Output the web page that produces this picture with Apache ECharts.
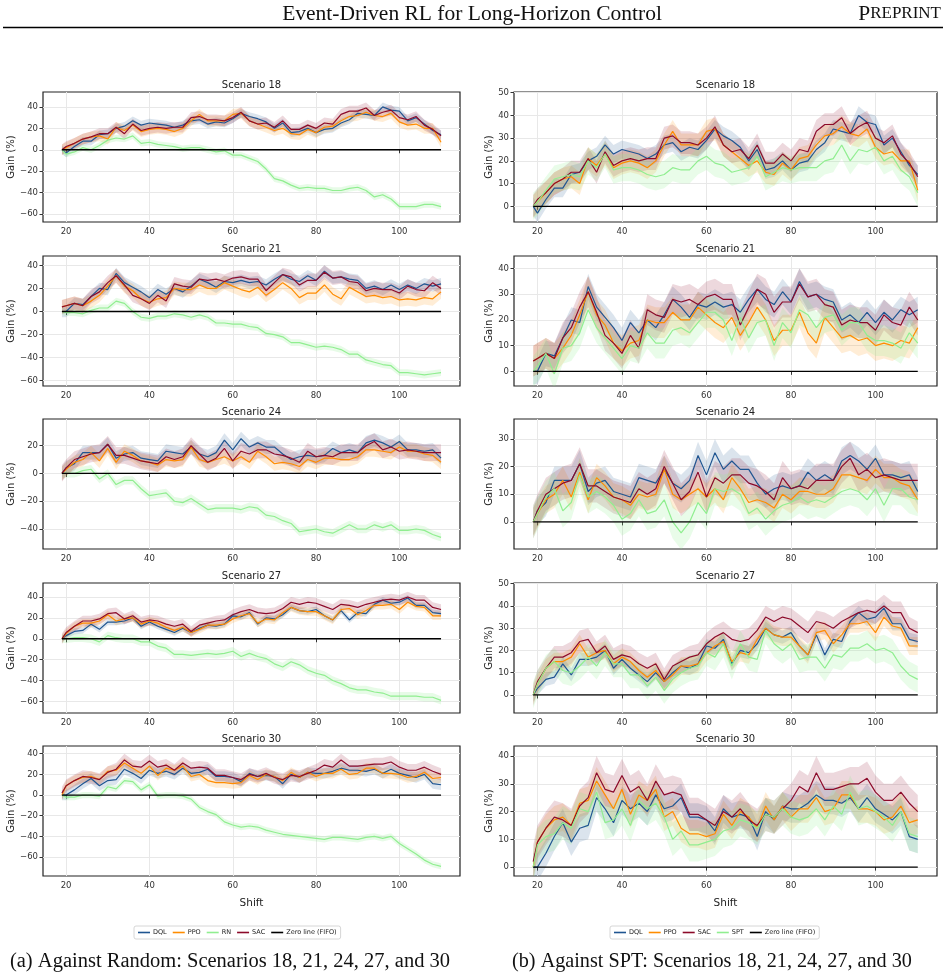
<!DOCTYPE html>
<html>
<head>
<meta charset="utf-8">
<script src="https://cdn.jsdelivr.net/npm/echarts@6/dist/echarts.min.js"></script>
<style>
  html, body { margin: 0; padding: 0; background: #fff; }
  #chart { width: 948px; height: 979px; }
</style>
</head>
<body>
<div id="chart"></div>
<script>
// shift values (x axis), shared by every panel
const shift = [19,20,22,24,26,28,30,32,34,36,38,40,42,44,46,48,50,52,54,56,58,60,62,64,66,68,70,72,74,76,78,80,82,84,86,88,90,92,94,96,98,100,102,104,106,108,110];

// Scenario 18
const dql18 = [0,-3,3,8,8,14,15,20,22,27, 23,25,24,23,21,23,27,28,24,26, 25,29,34,31,29,26,20,25,16,17, 20,16,19,20,25,28,34,33,32,40, 37,36,27,30,24,18,14];
const ppo18 = [0,2,6,10,12,13,10,21,18,23, 17,19,20,19,17,20,27,33,27,27, 27,33,34,27,24,21,18,20,15,14, 19,16,21,22,27,31,32,35,32,31, 34,26,23,24,20,20,7];
const sac18 = [0,3,6,10,12,15,15,21,15,24, 18,20,21,20,21,21,30,31,28,28, 27,30,35,27,24,25,21,27,19,19, 23,20,25,24,33,36,36,39,32,35, 37,30,28,31,23,19,13];
const rn18  = [0,-4,-2,2,0,4,9,11,10,13, 6,7,5,4,3,1,2,2,0,-2, -1,-5,-5,-8,-11,-18,-27,-29,-33,-36, -35,-36,-36,-38,-38,-36,-35,-38,-44,-42, -46,-53,-53,-53,-51,-51,-53];
const spt18 = [0,2,7,12,13,14,13,20,17,23, 16,17,17,16,14,13,14,17,16,16, 20,22,19,18,15,16,17,22,13,15, 17,16,17,17,17,20,21,27,20,25, 24,26,20,22,16,13,6];

// Scenario 21
const dql21 = [0,0,7,6,13,20,19,33,25,21, 17,12,19,15,20,17,22,28,25,21, 26,25,27,25,26,23,28,32,28,26, 31,27,35,29,30,28,27,20,22,19, 23,19,23,20,24,22,24];
const ppo21 = [4,5,7,5,9,14,22,31,22,18, 11,8,11,12,20,19,19,23,20,20, 25,22,19,17,21,14,19,25,20,12, 16,16,23,15,11,21,17,13,14,12, 13,10,11,10,12,11,17];
const sac21 = [4,5,7,5,13,17,25,31,23,14, 11,7,14,9,24,22,21,28,27,28, 26,29,30,28,28,18,25,32,30,23, 27,27,34,29,30,26,25,18,20,19, 19,16,22,19,18,25,20];
const rn21  = [0,-1,-1,-2,1,3,3,9,7,0, -5,-6,-4,-4,-2,-3,-5,-3,-5,-10, -10,-11,-11,-13,-14,-19,-20,-22,-27,-27, -29,-31,-30,-31,-33,-37,-37,-42,-44,-46, -47,-53,-53,-54,-55,-54,-53];
const spt21 = [0,2,7,-1,9,10,15,24,17,13, 9,5,10,9,15,11,11,16,17,15, 19,23,23,20,12,21,13,19,20,10, 19,15,24,22,17,21,22,16,19,19, 14,12,12,11,9,15,11];

// Scenario 24
const dql24 = [0,4,7,15,15,15,21,11,14,15, 11,10,9,16,15,14,19,14,12,15, 24,17,25,19,22,19,19,14,10,12, 13,12,13,18,15,17,15,22,24,22, 19,23,17,17,16,17,11];
const ppo24 = [0,3,8,10,15,9,18,8,16,13, 9,8,6,10,9,10,19,10,8,10, 12,9,12,8,16,12,7,8,7,5, 10,8,11,11,10,10,12,17,17,16, 15,19,16,16,14,13,8];
const sac24 = [0,4,10,12,14,15,21,13,13,11, 9,8,7,12,10,12,20,14,8,11, 18,9,16,14,17,17,14,13,11,8, 16,12,13,12,15,15,15,20,23,17, 19,16,17,16,15,15,15];
const rn24  = [0,0,0,2,3,-4,0,-8,-5,-5, -11,-16,-15,-14,-20,-21,-18,-22,-26,-25, -25,-25,-26,-24,-25,-30,-31,-34,-36,-42, -41,-40,-42,-43,-40,-37,-40,-40,-37,-39, -37,-41,-41,-40,-41,-44,-46];
const spt24 = [0,3,9,12,4,7,17,9,11,9, 6,1,3,8,3,4,8,0,-4,0, 7,3,12,11,12,10,3,5,1,4, 6,7,9,7,8,7,9,11,12,11, 8,12,6,12,12,9,8];

// Scenario 27
const dql27 = [0,3,7,8,14,9,16,16,17,20, 12,16,12,9,6,10,6,10,13,12, 14,22,21,25,14,20,19,23,30,27, 26,28,22,18,27,18,25,24,33,37, 34,35,39,32,32,25,24];
const ppo27 = [0,5,12,15,15,17,23,17,19,20, 14,17,15,11,8,11,6,9,13,13, 14,19,22,24,15,19,18,25,30,27, 26,26,22,18,28,29,23,27,32,32, 33,28,35,31,30,22,22];
const sac27 = [0,6,12,17,17,19,24,25,19,22, 16,18,17,14,12,14,7,13,15,17, 18,23,26,28,25,24,25,29,35,33, 35,34,31,28,33,32,30,33,35,37, 38,37,40,37,37,30,28];
const rn27  = [0,0,1,1,0,-3,3,1,0,0, -3,-3,-7,-9,-15,-15,-16,-15,-14,-15, -14,-12,-17,-14,-17,-19,-24,-27,-22,-25, -30,-33,-35,-40,-43,-47,-49,-49,-51,-52, -55,-55,-55,-55,-56,-56,-59];
const spt27 = [0,5,12,15,11,10,13,17,13,19, 14,14,9,9,4,8,2,7,10,12, 13,19,17,23,13,23,17,16,29,23, 20,23,16,17,17,12,18,17,21,21, 23,20,21,19,13,9,7];

// Scenario 30
const dql30 = [0,0,5,11,16,9,14,15,25,21, 16,24,21,23,20,26,21,22,25,18, 18,17,13,21,18,19,18,11,20,17, 22,21,21,23,26,24,24,23,25,21, 25,21,19,17,20,11,10];
const ppo30 = [0,9,14,17,18,15,23,24,31,26, 21,28,19,26,24,28,18,20,14,12, 12,11,12,19,15,20,18,14,22,17, 22,18,21,21,25,20,21,26,26,21, 21,20,17,18,22,16,17];
const sac30 = [2,9,14,18,17,15,22,25,34,28, 27,33,27,29,24,31,26,27,26,19, 19,17,15,20,18,21,17,15,19,18, 21,24,29,27,34,28,28,29,30,30, 32,27,24,24,27,23,20];
const rn30  = [0,-2,-2,0,0,-1,8,6,14,13, 5,10,-1,0,0,-1,-4,-12,-16,-19, -26,-29,-31,-30,-31,-34,-36,-38,-39,-40, -41,-42,-43,-41,-41,-42,-43,-41,-40,-42, -40,-47,-52,-57,-63,-67,-69];
const spt30 = [0,8,11,12,16,14,21,20,27,16, 17,21,15,24,21,23,18,10,13,8, 8,9,10,13,14,17,16,14,19,18, 21,18,17,18,21,17,22,19,27,21, 22,20,18,15,20,12,11];

// half-width of the shaded bands: DQL, PPO, SAC, RN, SPT
const band18 = [4,5,5,3,6];
const band21 = [5,6,6,3,6];
const band24 = [5,5,6,3,6];
const band27 = [3,4,5,4,6];
const band30 = [5,5,6,3,6];

const zeroLine = [0, 0];
const xTicks = [20, 40, 60, 80, 100];
const yTicksWide = [-60, -40, -20, 0, 20, 40];
const yTicks24 = [-40, -20, 0, 20];
const yTicks0to50 = [0, 10, 20, 30, 40, 50];
const yTicks0to40 = [0, 10, 20, 30, 40];
const yTicks0to30 = [0, 10, 20, 30];

const scenarioNames = ['Scenario 18', 'Scenario 21', 'Scenario 24', 'Scenario 27', 'Scenario 30'];

const rows = [
    { dql: dql18, ppo: ppo18, sac: sac18, rn: rn18, spt: spt18, band: band18, lt: yTicksWide, rt: yTicks0to50 },
    { dql: dql21, ppo: ppo21, sac: sac21, rn: rn21, spt: spt21, band: band21, lt: yTicksWide, rt: yTicks0to40 },
    { dql: dql24, ppo: ppo24, sac: sac24, rn: rn24, spt: spt24, band: band24, lt: yTicks24, rt: yTicks0to30 },
    { dql: dql27, ppo: ppo27, sac: sac27, rn: rn27, spt: spt27, band: band27, lt: yTicksWide, rt: yTicks0to50 },
    { dql: dql30, ppo: ppo30, sac: sac30, rn: rn30, spt: spt30, band: band30, lt: yTicksWide, rt: yTicks0to40 },
];

// layout (pixels) and axis extents
const rowTops = [92, 256, 419, 583, 746];
const rowHeight = 130;
const colLeft = [43, 514];
const colWidth = [417, 423];
const leftRanges = [[-67.4, 53.9], [-64.6, 48.1], [-54.4, 39.2], [-71.1, 53.4], [-78.4, 47.5]];
const rightRanges = [[-6.9, 50.3], [-5.7, 44.9], [-9.8, 37.2], [-8.1, 50.3], [-3.2, 43.6]];

const colors = {
    DQL: '#1f5591',
    PPO: '#ff8c00',
    SAC: '#8c0a2a',
    RN: '#90ee90',
    SPT: '#90ee90',
    zero: '#000000'
};

const tickFont = { fontSize: 8.5, color: '#333', fontFamily: 'DejaVu Sans' };
const fmt = v => (v < 0 ? '\u2212' + Math.abs(v) : String(v));

const grids = [], xAxes = [], yAxes = [], series = [], graphics = [];

// shaded band (mean +/- half-width) drawn as one polygon through the axis scales
function addBand(k, vals, s, color, alpha) {
    series.push({
        type: 'custom', xAxisIndex: k, yAxisIndex: k, silent: true, z: 2, clip: true,
        data: shift.map((x, n) => [x, vals[n] - s, vals[n] + s]),
        encode: { x: 0, y: [1, 2] },
        renderItem: function (params, api) {
            if (params.dataIndex !== 0) return null;
            const cs = params.coordSys;
            const upper = shift.map((x, n) => api.coord([x, vals[n] + s]));
            const lower = shift.map((x, n) => api.coord([x, vals[n] - s])).reverse();
            return {
                type: 'polygon',
                shape: { points: upper.concat(lower) },
                style: { fill: color, opacity: alpha },
                clipPath: { type: 'rect', shape: { x: cs.x, y: cs.y, width: cs.width, height: cs.height } }
            };
        }
    });
}

function addLine(k, name, vals) {
    series.push({
        type: 'line', name: name, xAxisIndex: k, yAxisIndex: k,
        data: shift.map((x, n) => [x, vals[n]]),
        symbol: 'none', lineStyle: { color: colors[name], width: 1.2 },
        itemStyle: { color: colors[name] }, z: 3
    });
}

rows.forEach((r, i) => {
    [0, 1].forEach(j => {
        const k = grids.length;
        const range = j ? rightRanges[i] : leftRanges[i];
        const ticks = j ? r.rt : r.lt;
        grids.push({
            left: colLeft[j], top: rowTops[i], width: colWidth[j], height: rowHeight,
            show: true, borderColor: '#222', borderWidth: 1.2, backgroundColor: 'transparent'
        });
        xAxes.push({
            type: 'value', gridIndex: k, min: 14.45, max: 114.55,
            axisLine: { show: false },
            axisTick: { show: true, length: 3.5, customValues: xTicks, lineStyle: { color: '#333' } },
            axisLabel: Object.assign({ customValues: xTicks, margin: 5 }, tickFont),
            splitLine: { show: true, lineStyle: { color: '#e8e8e8', width: 1 } },
            name: i === 4 ? 'Shift' : '', nameLocation: 'middle', nameGap: 22,
            nameTextStyle: { fontSize: 10.5, color: '#222', fontFamily: 'DejaVu Sans' }
        });
        yAxes.push({
            type: 'value', gridIndex: k, min: range[0], max: range[1],
            axisLine: { show: false },
            axisTick: { show: true, length: 3.5, customValues: ticks, lineStyle: { color: '#333' } },
            axisLabel: Object.assign({ customValues: ticks, margin: 5, formatter: fmt }, tickFont),
            splitLine: { show: true, lineStyle: { color: '#e8e8e8', width: 1 } },
            name: 'Gain (%)', nameLocation: 'middle', nameGap: j ? 15 : 22,
            nameTextStyle: { fontSize: 10, color: '#222', fontFamily: 'DejaVu Sans' }
        });

        const b = r.band;
        addBand(k, r.dql, b[0], colors.DQL, 0.16);
        addLine(k, 'DQL', r.dql);
        addBand(k, r.ppo, b[1], colors.PPO, 0.16);
        addLine(k, 'PPO', r.ppo);
        if (j === 0) {
            addBand(k, r.rn, b[3], colors.RN, 0.22);
            addLine(k, 'RN', r.rn);
            addBand(k, r.sac, b[2], colors.SAC, 0.16);
            addLine(k, 'SAC', r.sac);
        } else {
            addBand(k, r.sac, b[2], colors.SAC, 0.16);
            addLine(k, 'SAC', r.sac);
            addBand(k, r.spt, b[4], colors.SPT, 0.2);
            addLine(k, 'SPT', r.spt);
        }
        series.push({
            type: 'line', name: 'Zero line (FIFO)', xAxisIndex: k, yAxisIndex: k,
            data: [[shift[0], zeroLine[0]], [shift[shift.length - 1], zeroLine[1]]],
            symbol: 'none', lineStyle: { color: colors.zero, width: 1.3 },
            itemStyle: { color: colors.zero }, z: 4
        });

        graphics.push({
            type: 'text', x: colLeft[j] + colWidth[j] / 2, y: rowTops[i] - 6.5,
            style: { text: scenarioNames[i], align: 'center', verticalAlign: 'middle',
                     fontSize: 10, fill: '#222', fontFamily: 'DejaVu Sans' }
        });
    });
});

// page header and captions
graphics.push(
    { type: 'text', x: 472, y: 14, style: { text: 'Event-Driven RL for Long-Horizon Control', align: 'center', verticalAlign: 'middle', fontSize: 21.5, fill: '#111', fontFamily: 'Liberation Serif' } },
    { type: 'text', x: 941, y: 14, style: { text: '{a|P}{b|REPRINT}', align: 'right', verticalAlign: 'middle', fill: '#111',
        rich: { a: { fontSize: 21.5, fontFamily: 'Liberation Serif', fill: '#111' }, b: { fontSize: 17, fontFamily: 'Liberation Serif', fill: '#111' } } } },
    { type: 'line', shape: { x1: 3, y1: 27.5, x2: 943, y2: 27.5 }, style: { stroke: '#000', lineWidth: 1.3 } },
    { type: 'text', x: 230, y: 962, style: { text: '(a) Against Random: Scenarios 18, 21, 24, 27, and 30', align: 'center', verticalAlign: 'middle', fontSize: 20.5, fill: '#111', fontFamily: 'Liberation Serif' } },
    { type: 'text', x: 712, y: 962, style: { text: '(b) Against SPT: Scenarios 18, 21, 24, 27, and 30', align: 'center', verticalAlign: 'middle', fontSize: 20.2, fill: '#111', fontFamily: 'Liberation Serif' } }
);

const legendBase = {
    top: 926, orient: 'horizontal', icon: 'rect', itemWidth: 12, itemHeight: 1.6, itemGap: 6,
    textStyle: { fontSize: 6.5, color: '#222', fontFamily: 'DejaVu Sans', padding: [0, 0, 0, -2] },
    borderColor: '#ccc', borderWidth: 0.8, borderRadius: 2, padding: [3, 4], backgroundColor: '#fff',
    selectedMode: false
};

const chart = echarts.init(document.getElementById('chart'), null, { renderer: 'canvas' });
chart.setOption({
    animation: false,
    backgroundColor: '#fff',
    grid: grids,
    xAxis: xAxes,
    yAxis: yAxes,
    legend: [
        Object.assign({ left: 134, data: ['DQL', 'PPO', 'RN', 'SAC', 'Zero line (FIFO)'] }, legendBase),
        Object.assign({ left: 610, data: ['DQL', 'PPO', 'SAC', 'SPT', 'Zero line (FIFO)'] }, legendBase)
    ],
    graphic: graphics,
    series: series
});
</script>
</body>
</html>
